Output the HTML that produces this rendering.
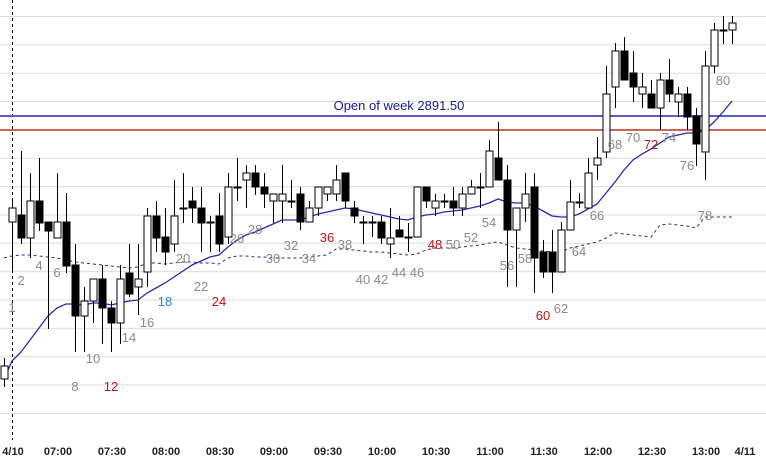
<!DOCTYPE html>
<html><head><meta charset="utf-8"><style>
html,body{margin:0;padding:0;background:#fff;}
svg{display:block;font-family:"Liberation Sans",Arial,sans-serif;}
</style></head><body>
<svg id="chart" width="766" height="459" viewBox="0 0 766 459" xmlns="http://www.w3.org/2000/svg"></svg>
<script>
const opens=[2865.2,2880.9,2881.6,2879.3,2883.0,2880.9,2879.3,2880.9,2876.6,2871.5,2873.0,2875.2,2872.3,2870.8,2875.8,2874.4,2875.9,2881.5,2879.4,2878.7,2882.3,2883.0,2882.3,2880.9,2881.5,2879.4,2884.4,2885.1,2885.8,2884.4,2883.0,2883.0,2883.0,2883.7,2880.9,2882.3,2883.7,2883.7,2885.8,2882.3,2880.9,2880.9,2880.9,2878.7,2880.1,2879.4,2879.4,2884.4,2882.3,2883.0,2883.0,2882.3,2883.7,2884.4,2884.4,2887.3,2885.1,2880.1,2882.3,2884.4,2877.9,2877.9,2875.9,2880.1,2882.9,2882.3,2886.6,2887.9,2894.4,2898.0,2895.8,2893.7,2893.7,2892.3,2895.1,2892.9,2893.7,2891.5,2887.9,2896.5,2900.1,2900.1];
const highs=[2867.3,2883.1,2888.0,2885.8,2887.3,2880.9,2885.8,2883.8,2878.7,2874.4,2875.2,2876.6,2873.0,2876.6,2878.7,2878.7,2882.3,2883.0,2882.3,2885.1,2885.8,2884.4,2884.4,2881.5,2883.8,2885.8,2887.3,2886.6,2886.6,2885.8,2883.7,2886.6,2885.1,2884.4,2883.0,2884.4,2884.4,2886.6,2885.8,2883.0,2881.5,2881.5,2881.5,2882.3,2881.5,2880.8,2884.4,2884.4,2883.7,2883.7,2884.4,2884.4,2885.1,2885.8,2889.1,2890.9,2886.6,2882.3,2885.8,2885.8,2879.1,2880.1,2880.9,2885.1,2883.8,2887.3,2889.4,2896.5,2898.8,2899.4,2898.0,2895.8,2895.1,2895.8,2897.2,2894.4,2894.4,2892.3,2898.0,2900.8,2901.5,2901.5];
const lows=[2864.4,2875.9,2878.7,2877.3,2880.0,2870.2,2879.3,2875.8,2867.9,2867.9,2870.8,2868.7,2867.9,2868.7,2873.4,2871.6,2874.4,2877.9,2876.6,2877.9,2880.8,2880.8,2877.9,2877.9,2877.9,2878.7,2883.0,2882.3,2883.6,2882.3,2880.8,2880.8,2882.3,2880.1,2880.9,2881.5,2883.0,2883.0,2882.3,2880.8,2878.7,2879.4,2878.7,2877.3,2879.4,2877.9,2879.4,2882.3,2881.5,2882.3,2881.5,2881.5,2883.7,2882.3,2884.4,2885.1,2874.4,2874.4,2880.9,2873.8,2875.3,2873.8,2875.9,2880.1,2882.3,2882.3,2885.1,2887.3,2892.3,2895.1,2892.9,2892.3,2892.3,2890.1,2892.9,2891.4,2890.1,2886.5,2885.1,2895.8,2898.7,2898.7];
const closes=[2866.5,2882.3,2879.3,2883.0,2880.8,2880.0,2880.9,2876.5,2871.5,2873.0,2875.2,2872.3,2870.8,2875.2,2873.7,2875.2,2881.5,2879.3,2877.9,2881.5,2882.3,2882.3,2880.8,2880.9,2878.7,2884.4,2884.4,2885.8,2884.4,2883.7,2883.7,2883.7,2883.0,2880.9,2882.3,2884.4,2884.4,2885.1,2883.0,2881.5,2880.9,2880.9,2879.3,2879.3,2879.4,2879.4,2884.4,2883.0,2883.0,2883.0,2882.3,2883.7,2884.4,2884.4,2888.0,2885.1,2880.1,2882.3,2883.7,2877.3,2875.9,2875.9,2880.1,2882.9,2882.9,2885.8,2887.3,2893.7,2898.0,2895.1,2894.4,2894.4,2892.3,2895.1,2893.7,2893.7,2891.4,2888.7,2896.5,2900.1,2900.1,2900.8];
const maFast=[2865.2,2867.0,2867.9,2869.1,2870.3,2871.5,2872.3,2872.7,2872.7,2872.6,2872.8,2872.8,2872.6,2872.8,2873.0,2873.1,2873.8,2874.3,2874.8,2875.4,2876.0,2876.6,2877.0,2877.4,2877.6,2878.4,2879.1,2879.6,2879.9,2880.3,2880.7,2881.1,2881.1,2881.1,2881.4,2881.7,2881.9,2882.1,2882.3,2882.2,2882.0,2881.8,2881.6,2881.4,2881.2,2881.1,2881.4,2881.6,2881.7,2881.9,2882.0,2882.1,2882.3,2882.5,2882.8,2883.2,2882.9,2882.8,2882.8,2882.5,2882.0,2881.5,2881.4,2881.4,2881.7,2882.2,2882.7,2883.8,2884.9,2886.1,2887.1,2887.7,2888.2,2888.8,2889.4,2889.6,2889.8,2889.8,2890.1,2890.9,2891.9,2893.0];
const maSlow=[2877.3,2877.5,2877.6,2877.6,2877.5,2877.4,2877.3,2877.1,2876.9,2876.8,2876.7,2876.6,2876.5,2876.4,2876.3,2876.4,2876.8,2876.8,2876.7,2876.8,2876.9,2876.9,2876.8,2876.8,2876.7,2877.3,2877.5,2877.5,2877.4,2877.4,2877.3,2877.3,2877.3,2877.3,2877.4,2877.5,2877.6,2878.2,2878.2,2878.1,2878.0,2877.9,2877.9,2877.8,2877.7,2877.6,2877.7,2878.1,2878.3,2878.3,2878.3,2878.4,2878.5,2878.6,2878.8,2878.9,2878.6,2878.3,2878.2,2878.1,2878.0,2877.9,2877.9,2878.3,2878.5,2878.7,2878.9,2879.3,2879.8,2879.7,2879.6,2879.5,2879.4,2880.6,2880.7,2880.6,2880.5,2880.3,2881.4,2881.4,2881.4,2881.4];
const barLabels=["1","2","4","6","8","10","12","14","16","18","20","22","24","26","28","30","32","34","36","38","40","42","44","46","48","50","52","54","56","58","60","62","64","66","68","70","72","74","76","78","80"];
const labelBars=[1,2,4,6,8,10,12,14,16,18,20,22,24,26,28,30,32,34,36,38,40,42,44,46,48,50,52,54,56,58,60,62,64,66,68,70,72,74,76,78,80];
const labelY=[307,280,265,272,386,358,386,337,322,301,258,286,301,238,229,258,245,258,237,244,279,279,272,272,244,244,237,222,265,258,315,308,251,215,144,137,144,137,165,215,80];
const labelColor={"12":"#c0141c","24":"#c0141c","36":"#c0141c","48":"#c0141c","60":"#c0141c","72":"#c0141c","18":"#1f8ad0"};
const timeLabels=["4/10","07:00","07:30","08:00","08:30","09:00","09:30","10:00","10:30","11:00","11:30","12:00","12:30","13:00"];
const timeBars=[1,6,12,18,24,30,36,42,48,54,60,66,72,78];
const weekOpen=2891.5, refLine=2890.1;

const NS="http://www.w3.org/2000/svg";
const svg=document.getElementById('chart');
const xOf=i=>4+i*9-(i>0?-0:0)+(i>0?-1+1:0); // index 0 = previous-day bar
const X=i=> i===0?4:12+(i-1)*9;
const Y=p=>116-(p-2891.5)*10;
function mk(t,a){const e=document.createElementNS(NS,t);for(const k in a)e.setAttribute(k,a[k]);svg.appendChild(e);return e;}
// grid
for(let g=0;g<15;g++){const y=16.5+g*28.35;
const gl=mk('line',{x1:0,x2:766,y1:y,y2:y,stroke:'#dcdcdc','stroke-width':1});

}
// day separator
const sep=mk('line',{x1:12.5,x2:12.5,y1:0,y2:440,stroke:'#000','stroke-dasharray':'3,3','stroke-width':1});


// horizontal lines
const wl=mk('line',{x1:0,x2:766,y1:Y(weekOpen),y2:Y(weekOpen),stroke:'#5a5ac8','stroke-width':2});


const rl=mk('line',{x1:0,x2:766,y1:Y(refLine),y2:Y(refLine),stroke:'#c86458','stroke-width':2});


const wt=mk('text',{x:399,y:Y(weekOpen)-6,'text-anchor':'middle','font-size':13,fill:'#1a1a9a'});
wt.textContent='Open of week 2891.50';


// MA lines
function pts(arr){return arr.map((v,i)=>X(i)+','+Y(v).toFixed(1)).join(' ');}
const ms=mk('polyline',{points:pts(maSlow),fill:'none',stroke:'#2a2a9a','stroke-width':1,'stroke-dasharray':'3,3'});


const mf=mk('polyline',{points:pts(maFast),fill:'none',stroke:'#2a2ab0','stroke-width':1.3});


// candles
for(let i=0;i<opens.length;i++){
 const x=X(i)+0.5,o=opens[i],c=closes[i];
 const w=mk('line',{x1:x,x2:x,y1:Y(highs[i]),y2:Y(lows[i]),stroke:'#000','stroke-width':1});
 
 
 const top=Y(Math.max(o,c)),bot=Y(Math.min(o,c));
 const up=c>=o;
 const r=mk('rect',{x:x-3.5,y:top,width:7,height:Math.max(1,bot-top),fill:up?'#fff':'#000',stroke:'#000','stroke-width':1});
 
 
}
// bar count labels
barLabels.forEach((t,k)=>{
 const e=mk('text',{x:X(labelBars[k]),y:labelY[k]+5,'text-anchor':'middle','font-size':13,fill:labelColor[t]||'#8a8a8a'});
 e.textContent=t;
 
 
});
// x axis
timeLabels.forEach((t,k)=>{
 const e=mk('text',{x:X(timeBars[k])+1,y:455,'text-anchor':'middle','font-size':11,'font-weight':'bold',fill:'#222'});
 e.textContent=t;
 
 
});
const e2=mk('text',{x:745,y:455,'text-anchor':'middle','font-size':11,'font-weight':'bold',fill:'#222'});
e2.textContent='4/11';


</script>
</body></html>
